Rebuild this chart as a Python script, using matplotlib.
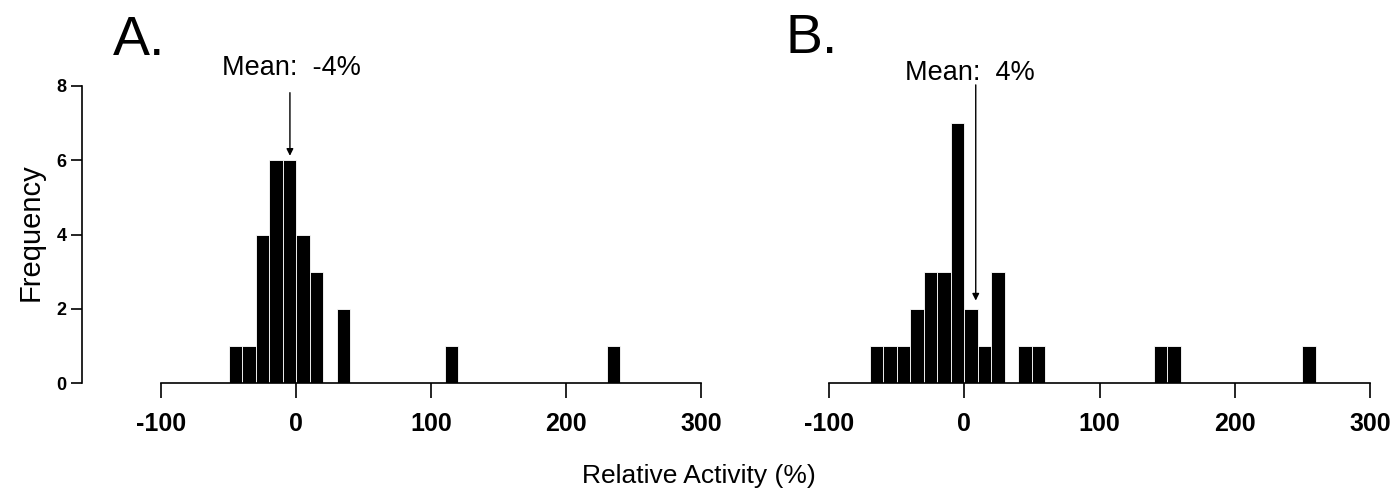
import numpy as np
import matplotlib
matplotlib.use('Agg')
import matplotlib.pyplot as plt

plt.rcParams['font.family'] = ['Liberation Sans', 'DejaVu Sans']

# histogram bins (left edges, width 10) and counts
bins_a = [-50, -40, -30, -20, -10, 0, 10, 30, 110, 230]
counts_a = [1, 1, 4, 6, 6, 4, 3, 2, 1, 1]
bins_b = [-70, -60, -50, -40, -30, -20, -10, 0, 10, 20, 40, 50, 140, 150, 250]
counts_b = [1, 1, 1, 2, 3, 3, 7, 2, 1, 3, 1, 1, 1, 1, 1]
bin_width = 10

mean_labels = ['Mean:  -4%', 'Mean:  4%']
mean_x = [-4.5, 8.5]          # where the arrows sit
label_x = [-3.5, 4.0]
arrow_top = [7.82, 8.03]
arrow_tip = [6.12, 2.22]
text_y = [8.3, 8.17]

x_ticks = [-100, 0, 100, 200, 300]
y_ticks = [0, 2, 4, 6, 8]

fig = plt.figure(figsize=(13.97, 4.97), dpi=100)
ax_a = fig.add_axes([161/1397, 114/497, 540/1397, 297/497])
ax_b = fig.add_axes([829/1397, 114/497, 541/1397, 297/497])

for i, (ax, bins, counts) in enumerate([(ax_a, bins_a, counts_a), (ax_b, bins_b, counts_b)]):
    ax.bar(bins, counts, width=bin_width, align='edge', color='black',
           edgecolor='white', linewidth=0.6)
    ax.set_xlim(-100, 300)
    ax.set_ylim(0, 8)
    ax.set_xticks(x_ticks)
    ax.set_xticklabels([str(t) for t in x_ticks], fontsize=18, fontweight='bold')
    ax.tick_params(axis='x', length=11, width=1.2, pad=10, direction='out')
    for s in ['top', 'right']:
        ax.spines[s].set_visible(False)
    ax.spines['bottom'].set_linewidth(1.2)
    ax.annotate('', xy=(mean_x[i], arrow_tip[i]), xytext=(mean_x[i], arrow_top[i]),
                arrowprops=dict(arrowstyle='-|>', color='black', lw=1,
                                mutation_scale=10, shrinkA=0, shrinkB=0),
                annotation_clip=False)
    ax.text(label_x[i], text_y[i], mean_labels[i], ha='center', va='baseline',
            fontsize=19.5, clip_on=False)

ax_a.spines['left'].set_position(('outward', 57))
ax_a.spines['left'].set_linewidth(1.2)
ax_a.set_yticks(y_ticks)
ax_a.set_yticklabels([str(t) for t in y_ticks], fontsize=13, fontweight='bold')
ax_a.tick_params(axis='y', length=8, width=1.2, pad=3)

ax_b.spines['left'].set_visible(False)
ax_b.set_yticks([])

fig.text(113/1397, 1 - 55/497, 'A.', fontsize=40, ha='left', va='baseline')
fig.text(786/1397, 1 - 53/497, 'B.', fontsize=40, ha='left', va='baseline')
fig.text(31/1397, 1 - 232/497, 'Frequency', fontsize=21, rotation=90,
         ha='center', va='center')
fig.text(0.5, 1 - 483/497, 'Relative Activity (%)', fontsize=19,
         ha='center', va='baseline')

fig.savefig('out.png', dpi=100)
